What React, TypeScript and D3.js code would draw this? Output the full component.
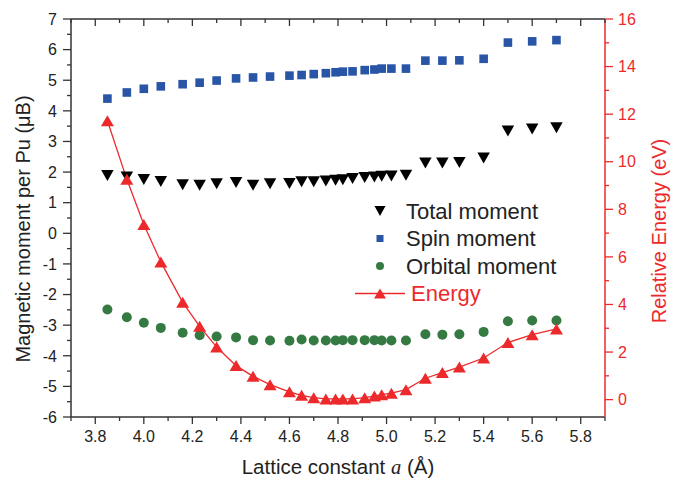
import React from 'react';
import * as d3 from 'd3';

// lattice constant a (Å) for every calculated point
const latticeA = [3.85, 3.93, 4.0, 4.07, 4.16, 4.23, 4.3, 4.38, 4.45, 4.52, 4.6, 4.65, 4.7, 4.75, 4.79, 4.82, 4.86, 4.91, 4.95, 4.98, 5.02, 5.08, 5.16, 5.23, 5.3, 5.4, 5.5, 5.6, 5.7];
const totalMoment = [1.89, 1.84, 1.76, 1.69, 1.59, 1.57, 1.62, 1.66, 1.57, 1.62, 1.63, 1.68, 1.68, 1.71, 1.73, 1.75, 1.79, 1.82, 1.84, 1.86, 1.87, 1.9, 2.3, 2.3, 2.31, 2.46, 3.34, 3.41, 3.45];
const spinMoment = [4.4, 4.6, 4.72, 4.8, 4.87, 4.92, 4.99, 5.06, 5.09, 5.12, 5.15, 5.17, 5.2, 5.23, 5.26, 5.28, 5.29, 5.33, 5.35, 5.38, 5.38, 5.38, 5.64, 5.64, 5.65, 5.7, 6.23, 6.27, 6.31];
const orbitalMoment = [-2.49, -2.74, -2.92, -3.09, -3.25, -3.33, -3.37, -3.4, -3.49, -3.5, -3.51, -3.47, -3.5, -3.5, -3.5, -3.49, -3.49, -3.49, -3.49, -3.5, -3.5, -3.5, -3.3, -3.31, -3.3, -3.22, -2.87, -2.85, -2.85];
const energy = [11.72, 9.26, 7.36, 5.79, 4.09, 3.08, 2.21, 1.43, 0.98, 0.63, 0.33, 0.18, 0.08, 0.03, 0.03, 0.03, 0.03, 0.08, 0.15, 0.21, 0.27, 0.42, 0.9, 1.14, 1.37, 1.75, 2.4, 2.73, 2.97];

const xTicks = [3.8, 4.0, 4.2, 4.4, 4.6, 4.8, 5.0, 5.2, 5.4, 5.6, 5.8];
const leftTicks = [-6, -5, -4, -3, -2, -1, 0, 1, 2, 3, 4, 5, 6, 7];
const rightTicks = [0, 2, 4, 6, 8, 10, 12, 14, 16];

const legendItems = ['Total moment', 'Spin moment', 'Orbital moment', 'Energy'];

const W = 680, H = 481;
const m = { left: 71, right: 605, top: 19, bottom: 417 };
const font = '"Liberation Sans", Arial, sans-serif';
const axisCol = '#333';
const red = '#ec2a2c';
const blue = '#2855a6';
const green = '#367a43';

const x = d3.scaleLinear().domain([3.7, 5.9]).range([m.left, m.right]);
const yL = d3.scaleLinear().domain([-6, 7]).range([m.bottom, m.top]);
const yR = d3.scaleLinear().domain([-0.73, 16]).range([m.bottom, m.top]);

const tri = (cx: number, cy: number, w: number, h: number, down: boolean) => {
  const s = down ? -1 : 1;
  return `M${cx - w / 2},${cy + (s * h) / 2}L${cx + w / 2},${cy + (s * h) / 2}L${cx},${cy - (s * h) / 2}Z`;
};

const App = () => {
  const xMinor = d3.range(37, 60).map(v => v / 10);
  const leftMinor = d3.range(-11, 14, 2).map(v => v / 2);
  const rightMinor = d3.range(1, 16, 2);

  const energyLine = d3.line<number>()
    .x((d, i) => x(latticeA[i]))
    .y(d => yR(d));

  const lx = 380;
  const ly = [211, 238.5, 266, 293.5];

  return (
    <svg width={W} height={H} style={{ position: 'absolute', left: 0, top: 0 }} fontFamily={font}>
      <rect width={W} height={H} fill="#fff" />

      {/* frame */}
      <line x1={m.left} x2={m.right} y1={m.top} y2={m.top} stroke={axisCol} strokeWidth={1.5} />
      <line x1={m.left} x2={m.right} y1={m.bottom} y2={m.bottom} stroke={axisCol} strokeWidth={1.5} />
      <line x1={m.left} x2={m.left} y1={m.top} y2={m.bottom} stroke={axisCol} strokeWidth={1.5} />
      <line x1={m.right} x2={m.right} y1={m.top} y2={m.bottom} stroke={red} strokeWidth={1.5} />

      {/* bottom + top x ticks */}
      {xMinor.map(v => {
        const major = Math.abs(Math.round(v * 10) % 2) === 0;
        const len = major ? 7 : 4;
        return (
          <g key={'xt' + v}>
            <line x1={x(v)} x2={x(v)} y1={m.bottom} y2={m.bottom + len} stroke={axisCol} strokeWidth={1.3} />
            <line x1={x(v)} x2={x(v)} y1={m.top} y2={m.top + len} stroke={axisCol} strokeWidth={1.3} />
          </g>
        );
      })}
      {xTicks.map(v => (
        <text key={'xl' + v} x={x(v)} y={442} fontSize={16} textAnchor="middle" fill="#222">{d3.format('.1f')(v)}</text>
      ))}

      {/* left axis */}
      {leftMinor.map(v => (
        <line key={'lm' + v} x1={m.left - 4} x2={m.left} y1={yL(v)} y2={yL(v)} stroke={axisCol} strokeWidth={1.3} />
      ))}
      {leftTicks.map(v => (
        <g key={'lt' + v}>
          <line x1={m.left - 8} x2={m.left} y1={yL(v)} y2={yL(v)} stroke={axisCol} strokeWidth={1.3} />
          <text x={57} y={yL(v)} dy="0.36em" fontSize={16} textAnchor="end" fill="#222">{v}</text>
        </g>
      ))}

      {/* right axis */}
      {rightMinor.map(v => (
        <line key={'rm' + v} x1={m.right} x2={m.right + 4} y1={yR(v)} y2={yR(v)} stroke={red} strokeWidth={1.3} />
      ))}
      {rightTicks.map(v => (
        <g key={'rt' + v}>
          <line x1={m.right} x2={m.right + 8} y1={yR(v)} y2={yR(v)} stroke={red} strokeWidth={1.3} />
          <text x={618} y={yR(v)} dy="0.36em" fontSize={16} fill={red}>{v}</text>
        </g>
      ))}

      {/* axis titles */}
      <text transform="translate(30,229) rotate(-90)" fontSize={20} textAnchor="middle" fill="#222">Magnetic moment per Pu (μB)</text>
      <text transform="translate(666,231) rotate(-90)" fontSize={20} textAnchor="middle" fill={red}>Relative Energy (eV)</text>
      <text x={338} y={474} fontSize={20.5} textAnchor="middle" fill="#222">
        Lattice constant <tspan fontStyle="italic" fontFamily='"Liberation Serif", serif'>a</tspan> (Å)
      </text>

      {/* energy curve */}
      <path d={energyLine(energy) || ''} fill="none" stroke={red} strokeWidth={1.3} />

      {totalMoment.map((v, i) => (
        <path key={'t' + i} d={tri(x(latticeA[i]), yL(v), 12.5, 11, true)} fill="#000" />
      ))}
      {spinMoment.map((v, i) => (
        <rect key={'s' + i} x={x(latticeA[i]) - 4.3} y={yL(v) - 4.3} width={8.6} height={8.6} fill={blue} />
      ))}
      {orbitalMoment.map((v, i) => (
        <circle key={'o' + i} cx={x(latticeA[i])} cy={yL(v)} r={5} fill={green} />
      ))}
      {energy.map((v, i) => (
        <path key={'e' + i} d={tri(x(latticeA[i]), yR(v), 13, 11, false)} fill={red} />
      ))}

      {/* legend */}
      <path d={tri(lx, ly[0], 11, 10, true)} fill="#000" />
      <rect x={lx - 3.5} y={ly[1] - 3.5} width={7} height={7} fill={blue} />
      <circle cx={lx} cy={ly[2]} r={4} fill={green} />
      <line x1={355} x2={405} y1={ly[3]} y2={ly[3]} stroke={red} strokeWidth={1.3} />
      <path d={tri(lx, ly[3], 12, 10, false)} fill={red} />
      {legendItems.map((t, i) => (
        <text key={t} x={i === 3 ? 411 : 406} y={ly[i]} dy="0.36em" fontSize={22} fill={i === 3 ? red : '#222'}>{t}</text>
      ))}
    </svg>
  );
};

export default App;
